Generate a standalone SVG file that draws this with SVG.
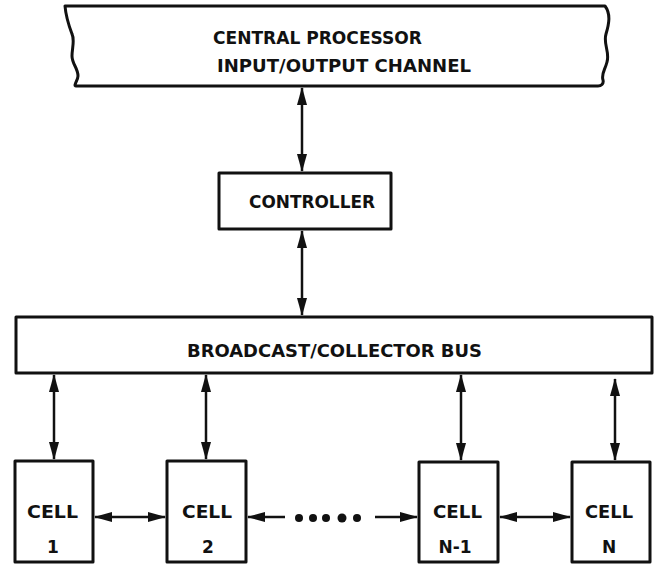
<svg xmlns="http://www.w3.org/2000/svg" width="656" height="564" viewBox="0 0 656 564">
<style>
.box{fill:#fff;stroke:#111;stroke-width:3;stroke-linejoin:round}
.lbl{font-family:"DejaVu Sans","Liberation Sans",sans-serif;font-weight:bold;font-size:17px;fill:#111}
.num{font-family:"DejaVu Sans","Liberation Sans",sans-serif;font-weight:bold;font-size:17px;fill:#111;text-anchor:middle}
.con{stroke:#111;stroke-width:2.5;fill:none}
</style>
<defs>
<marker id="ah" markerUnits="userSpaceOnUse" markerWidth="18" markerHeight="10" refX="17" refY="5" orient="auto-start-reverse" viewBox="0 0 18 10">
<path d="M0,0 L18,5 L0,10 Z" fill="#111"/>
</marker>
</defs>
<rect width="656" height="564" fill="#fff"/>
<g id="cpu">
<path class="box" d="M65,6 L605,6 C611,14 609,24 606,34 C603,44 610,52 607,62 C605,70 601,74 603,80 C604,84 601,86 598,86 L76,86 C73,86 78,80 78,76 C78,68 72,64 72,56 C72,48 75,40 72,34 C69,26 66,18 65,6 Z"/>
<text class="lbl" x="213" y="44" textLength="209" lengthAdjust="spacingAndGlyphs">CENTRAL PROCESSOR</text>
<text class="lbl" x="217" y="72" textLength="254" lengthAdjust="spacingAndGlyphs">INPUT/OUTPUT CHANNEL</text>
</g>
<g id="controller">
<rect class="box" x="219" y="173" width="172" height="56"/>
<text class="lbl" x="249" y="208" textLength="126" lengthAdjust="spacingAndGlyphs">CONTROLLER</text>
</g>
<g id="bus">
<rect class="box" x="16" y="317" width="636" height="56"/>
<text class="lbl" x="187" y="357" textLength="295" lengthAdjust="spacingAndGlyphs">BROADCAST/COLLECTOR BUS</text>
</g>
<g id="cell1">
<rect class="box" x="15" y="461" width="78" height="101"/>
<text class="lbl" x="27" y="518" textLength="51" lengthAdjust="spacingAndGlyphs">CELL</text>
<text class="num" x="53" y="553">1</text>
</g>
<g id="cell2">
<rect class="box" x="167" y="461" width="79" height="101"/>
<text class="lbl" x="182" y="518" textLength="50" lengthAdjust="spacingAndGlyphs">CELL</text>
<text class="num" x="208" y="553">2</text>
</g>
<g id="cellN-1">
<rect class="box" x="419" y="462" width="79" height="100"/>
<text class="lbl" x="433" y="518" textLength="49" lengthAdjust="spacingAndGlyphs">CELL</text>
<text class="num" x="455" y="553">N-1</text>
</g>
<g id="cellN">
<rect class="box" x="572" y="462" width="78" height="100"/>
<text class="lbl" x="585" y="518" textLength="48" lengthAdjust="spacingAndGlyphs">CELL</text>
<text class="num" x="609" y="553">N</text>
</g>
<g id="connectors">
<line class="con" x1="302" y1="88" x2="302" y2="171" marker-start="url(#ah)" marker-end="url(#ah)"/>
<line class="con" x1="302" y1="231" x2="302" y2="315" marker-start="url(#ah)" marker-end="url(#ah)"/>
<line class="con" x1="54" y1="375" x2="54" y2="459" marker-start="url(#ah)" marker-end="url(#ah)"/>
<line class="con" x1="206" y1="375" x2="206" y2="459" marker-start="url(#ah)" marker-end="url(#ah)"/>
<line class="con" x1="461" y1="375" x2="461" y2="460" marker-start="url(#ah)" marker-end="url(#ah)"/>
<line class="con" x1="615" y1="379" x2="615" y2="460" marker-start="url(#ah)" marker-end="url(#ah)"/>
<line class="con" x1="95" y1="517" x2="165" y2="517" marker-start="url(#ah)" marker-end="url(#ah)"/>
<line class="con" x1="285" y1="517" x2="248" y2="517" marker-end="url(#ah)"/>
<line class="con" x1="375" y1="517" x2="417" y2="517" marker-end="url(#ah)"/>
<line class="con" x1="500" y1="517" x2="570" y2="517" marker-start="url(#ah)" marker-end="url(#ah)"/>
<circle cx="299" cy="518" r="4" fill="#111"/>
<circle cx="313" cy="518" r="4" fill="#111"/>
<circle cx="326" cy="518" r="4" fill="#111"/>
<circle cx="342" cy="518" r="4.5" fill="#111"/>
<circle cx="357" cy="518" r="4" fill="#111"/>
</g>
</svg>
